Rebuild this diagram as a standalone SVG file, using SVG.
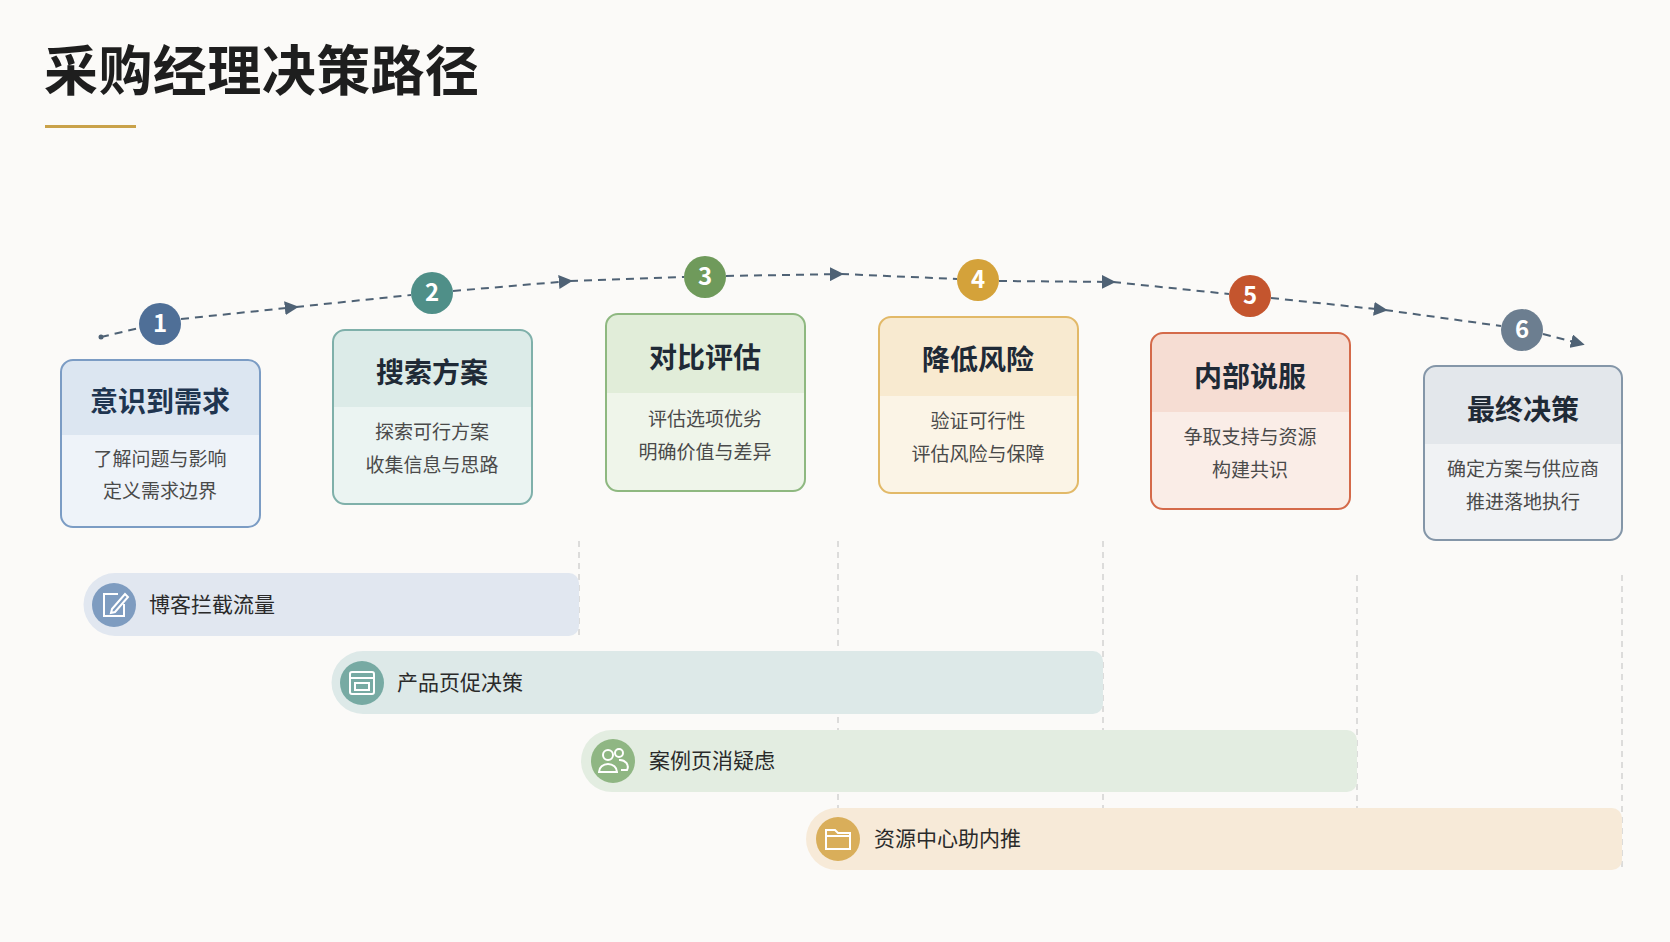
<svg xmlns="http://www.w3.org/2000/svg" width="1670" height="942" viewBox="0 0 1670 942">
<defs>
<style>
text{font-family:"Noto Sans CJK SC","Noto Sans",sans-serif}
.t{font-size:28px;font-weight:700;fill:#1F2A36;text-anchor:middle}
.s{font-size:19px;fill:#4A4A4A;text-anchor:middle}
.n{font-size:24px;font-weight:700;fill:#fff;text-anchor:middle}
.b{font-size:21px;fill:#2A2A2A}
.path{fill:none;stroke:#4F6275;stroke-width:2;stroke-dasharray:8 6}
.v{stroke:#C9C9C9;stroke-width:1.2;stroke-dasharray:6 5}
.ic{fill:none;stroke:#fff;stroke-width:2}
</style>
<marker id="a" viewBox="0 0 10 10" refX="8" refY="5" markerWidth="7" markerHeight="7" orient="auto"><path d="M0,0L10,5L0,10z" fill="#4F6275"/></marker>
</defs>
<rect width="1670" height="942" fill="#FBFAF8"/>
<text x="44" y="91" font-size="54" font-weight="700" fill="#1E1E1E" textLength="435">采购经理决策路径</text>
<rect x="45" y="125" width="91" height="3" fill="#C9A24A"/>

<g id="guides">
<line class="v" x1="579" y1="541" x2="579" y2="640"/>
<line class="v" x1="838" y1="541" x2="838" y2="810"/>
<line class="v" x1="1103" y1="541" x2="1103" y2="810"/>
<line class="v" x1="1357" y1="575" x2="1357" y2="810"/>
<line class="v" x1="1622" y1="575" x2="1622" y2="870"/>
</g>

<g id="connectors">
<path class="path" d="M101,337 L139,328"/>
<circle cx="101" cy="337" r="2.5" fill="#4F6275"/>
<path class="path" d="M181,319 L296,307" marker-end="url(#a)"/>
<path class="path" d="M296,307 L411,295"/>
<path class="path" d="M453,291 L570,281" marker-end="url(#a)"/>
<path class="path" d="M570,281 L684,277"/>
<path class="path" d="M726,276 L841,274" marker-end="url(#a)"/>
<path class="path" d="M841,274 L957,279"/>
<path class="path" d="M999,281 L1113,282" marker-end="url(#a)"/>
<path class="path" d="M1113,282 L1229,294"/>
<path class="path" d="M1271,298 L1385,310" marker-end="url(#a)"/>
<path class="path" d="M1385,310 L1501,326"/>
<path class="path" d="M1543,334 L1582,344" marker-end="url(#a)"/>
</g>

<g id="step1">
<rect x="61" y="360" width="199" height="167" rx="12" fill="#EEF3F9"/>
<path d="M61,435 V372 a12,12 0 0 1 12,-12 H248 a12,12 0 0 1 12,12 V435z" fill="#DCE6F1"/>
<rect x="61" y="360" width="199" height="167" rx="12" fill="none" stroke="#7B9CC4" stroke-width="2"/>
<text class="t" x="160" y="412" fill="#1F3550" style="fill:#1F3550">意识到需求</text>
<text class="s" x="160" y="466">了解问题与影响</text>
<text class="s" x="160" y="498">定义需求边界</text>
<circle cx="160" cy="324" r="21" fill="#4F6F97"/><text class="n" x="160" y="332">1</text>
</g>
<g id="step2">
<rect x="333" y="330" width="199" height="174" rx="12" fill="#EBF4F2"/>
<path d="M333,407 V342 a12,12 0 0 1 12,-12 H520 a12,12 0 0 1 12,12 V407z" fill="#DCEBE8"/>
<rect x="333" y="330" width="199" height="174" rx="12" fill="none" stroke="#7FB0AA" stroke-width="2"/>
<text class="t" x="432" y="383">搜索方案</text>
<text class="s" x="432" y="439">探索可行方案</text>
<text class="s" x="432" y="472">收集信息与思路</text>
<circle cx="432" cy="293" r="21" fill="#4F8F88"/><text class="n" x="432" y="301">2</text>
</g>
<g id="step3">
<rect x="606" y="314" width="199" height="177" rx="12" fill="#EFF5EA"/>
<path d="M606,393 V326 a12,12 0 0 1 12,-12 H793 a12,12 0 0 1 12,12 V393z" fill="#E1EDD9"/>
<rect x="606" y="314" width="199" height="177" rx="12" fill="none" stroke="#8EB880" stroke-width="2"/>
<text class="t" x="705" y="368">对比评估</text>
<text class="s" x="705" y="426">评估选项优劣</text>
<text class="s" x="705" y="459">明确价值与差异</text>
<circle cx="705" cy="277" r="21" fill="#6F9A5B"/><text class="n" x="705" y="285">3</text>
</g>
<g id="step4">
<rect x="879" y="317" width="199" height="176" rx="12" fill="#FBF4E6"/>
<path d="M879,396 V329 a12,12 0 0 1 12,-12 H1066 a12,12 0 0 1 12,12 V396z" fill="#F8EAD0"/>
<rect x="879" y="317" width="199" height="176" rx="12" fill="none" stroke="#E2B968" stroke-width="2"/>
<text class="t" x="978" y="370">降低风险</text>
<text class="s" x="978" y="428">验证可行性</text>
<text class="s" x="978" y="461">评估风险与保障</text>
<circle cx="978" cy="280" r="21" fill="#D4A23A"/><text class="n" x="978" y="288">4</text>
</g>
<g id="step5">
<rect x="1151" y="333" width="199" height="176" rx="12" fill="#FAEDE7"/>
<path d="M1151,412 V345 a12,12 0 0 1 12,-12 H1338 a12,12 0 0 1 12,12 V412z" fill="#F6DDD3"/>
<rect x="1151" y="333" width="199" height="176" rx="12" fill="none" stroke="#D46A4A" stroke-width="2"/>
<text class="t" x="1250" y="387">内部说服</text>
<text class="s" x="1250" y="444">争取支持与资源</text>
<text class="s" x="1250" y="477">构建共识</text>
<circle cx="1250" cy="296" r="21" fill="#C4552E"/><text class="n" x="1250" y="304">5</text>
</g>
<g id="step6">
<rect x="1424" y="366" width="198" height="174" rx="12" fill="#F0F2F4"/>
<path d="M1424,444 V378 a12,12 0 0 1 12,-12 H1610 a12,12 0 0 1 12,12 V444z" fill="#E3E7EB"/>
<rect x="1424" y="366" width="198" height="174" rx="12" fill="none" stroke="#8496A8" stroke-width="2"/>
<text class="t" x="1523" y="420">最终决策</text>
<text class="s" x="1523" y="476">确定方案与供应商</text>
<text class="s" x="1523" y="509">推进落地执行</text>
<circle cx="1522" cy="330" r="21" fill="#6C7E90"/><text class="n" x="1522" y="338">6</text>
</g>

<g id="bar1">
<path d="M115,573 H569 a10,10 0 0 1 10,10 V626 a10,10 0 0 1 -10,10 H115 a31.5,31.5 0 0 1 0,-63z" fill="#E1E7F0"/>
<circle cx="114" cy="605" r="22" fill="#7E9CC0"/>
<path class="ic" d="M118,594 H104 V616 H124 V604 M112,609 L125,594 L128,597 L115,612 L111,613z"/>
<text class="b" x="149" y="612">博客拦截流量</text>
</g>
<g id="bar2">
<path d="M363,651 H1093 a10,10 0 0 1 10,10 V704 a10,10 0 0 1 -10,10 H363 a31.5,31.5 0 0 1 0,-63z" fill="#DDE9E8"/>
<circle cx="362" cy="683" r="22" fill="#77AAA3"/>
<rect class="ic" x="350" y="672" width="24" height="22" rx="2"/>
<path class="ic" d="M350,678 H374 M355,683 H369 V690 H355z"/>
<text class="b" x="397" y="690">产品页促决策</text>
</g>
<g id="bar3">
<path d="M612,730 H1347 a10,10 0 0 1 10,10 V782 a10,10 0 0 1 -10,10 H612 a31,31 0 0 1 0,-62z" fill="#E3EDE1"/>
<circle cx="613" cy="761" r="22" fill="#8FB683"/>
<circle class="ic" cx="608" cy="755" r="5"/><circle class="ic" cx="619" cy="753" r="4"/>
<path class="ic" d="M599,772 a9,8 0 0 1 18,0z M619,760 a8,7 0 0 1 8,10 H621"/>
<text class="b" x="649" y="768">案例页消疑虑</text>
</g>
<g id="bar4">
<path d="M837,808 H1612 a10,10 0 0 1 10,10 V860 a10,10 0 0 1 -10,10 H837 a31,31 0 0 1 0,-62z" fill="#F7EAD8"/>
<circle cx="838" cy="839" r="22" fill="#D9AE5A"/>
<path class="ic" d="M826,830 H835 L838,833 H850 V849 H826z M826,836 H850"/>
<text class="b" x="874" y="846">资源中心助内推</text>
</g>
</svg>
